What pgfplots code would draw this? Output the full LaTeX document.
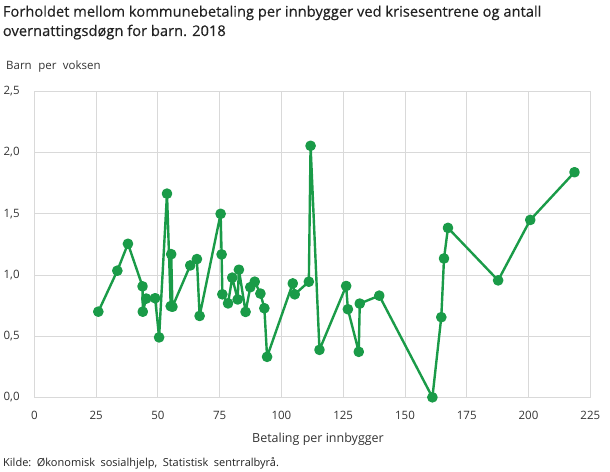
\documentclass[border=0pt]{standalone}
\usepackage{fontspec}
\setmainfont{Open Sans}
\newfontfamily\titlefont[FakeBold=0.35]{Open Sans}
\usepackage{pgfplots}
\pgfplotsset{compat=1.18}
\definecolor{ssbgreen}{RGB}{26,155,72}
\definecolor{gridgray}{RGB}{217,217,217}
\definecolor{txt}{RGB}{34,34,34}
\definecolor{ticktxt}{RGB}{51,51,51}
\begin{document}
\begin{tikzpicture}[x=1pt,y=1pt]
\path[use as bounding box] (0,0) rectangle (610,471);
\begin{axis}[
  at={(34.3pt,73.7pt)}, anchor=south west,
  scale only axis, width=556pt, height=305.8pt,
  xmin=0, xmax=225, ymin=0, ymax=2.5,
  xtick={0,25,...,225}, ytick={0,0.5,1,1.5,2,2.5},
  grid=major,
  major grid style={gridgray, line width=0.9pt},
  axis line style={gridgray, line width=0.9pt},
  major tick length=0pt,
  /pgf/number format/assume math mode=true,
  /pgf/number format/use comma,
  yticklabel={\pgfmathprintnumber[fixed,fixed zerofill,precision=1]{\tick}},
  tick label style={font=\fontsize{11.5}{13}\selectfont, text=ticktxt, inner sep=0pt},
  xticklabel style={anchor=base, yshift=-22.7pt},
  yticklabel style={anchor=base east, xshift=-14.5pt, yshift=-3.2pt},
  clip=false,
]
\addplot[ssbgreen, line width=2.4pt, line join=round, line cap=round, mark=*, mark size=4.1pt, mark options={fill=ssbgreen, draw=none}] coordinates {
(25.9,0.70)
(33.6,1.035)
(37.9,1.255)
(43.8,0.907)
(43.9,0.70)
(45.3,0.807)
(48.9,0.81)
(50.5,0.49)
(53.7,1.665)
(55.2,0.745)
(55.4,1.17)
(55.9,0.74)
(63.1,1.078)
(65.8,1.13)
(66.9,0.665)
(75.4,1.50)
(75.8,1.168)
(76.1,0.842)
(78.4,0.768)
(80.1,0.978)
(82.3,0.80)
(82.8,1.043)
(85.5,0.698)
(87.4,0.90)
(89.2,0.945)
(91.5,0.848)
(93.1,0.728)
(94.2,0.331)
(104.6,0.931)
(105.4,0.842)
(111.1,0.945)
(111.8,2.056)
(115.4,0.388)
(126.2,0.91)
(126.9,0.72)
(131.3,0.372)
(131.7,0.766)
(139.6,0.831)
(161.1,0.0)
(164.7,0.655)
(165.8,1.135)
(167.4,1.385)
(187.7,0.956)
(200.7,1.45)
(218.6,1.84)
};
\end{axis}
\node[anchor=base west, inner sep=0pt, text=txt, font=\titlefont\fontsize{14.7}{16}\selectfont] at (2.7,471-16.7) {Forholdet mellom kommunebetaling per innbygger ved krisesentrene og antall};
\node[anchor=base west, inner sep=0pt, text=txt, font=\titlefont\fontsize{14.7}{16}\selectfont] at (2.7,471-36) {overnattingsdøgn for barn. 2018};
\node[anchor=base west, inner sep=0pt, text=ticktxt, font=\fontsize{11.5}{13}\selectfont] at (6,471-70) {Barn\hspace{6.5pt}per\hspace{6.5pt}voksen};
\node[anchor=base, inner sep=0pt, text=ticktxt, font=\fontsize{12.5}{14}\selectfont] at (318,471-442.7) {Betaling per innbygger};
\node[anchor=base west, inner sep=0pt, text=txt, font=\fontsize{11}{13}\selectfont] at (3,471-466.7) {Kilde:\hspace{5.5pt}Økonomisk\hspace{5.5pt}sosialhjelp,\hspace{5.5pt}Statistisk\hspace{5.5pt}sentrralbyrå.};
\end{tikzpicture}
\end{document}
